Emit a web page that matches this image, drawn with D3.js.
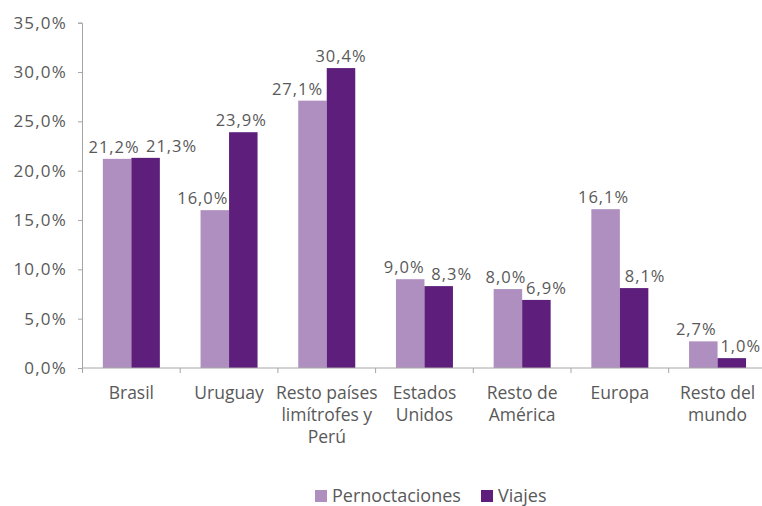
<!DOCTYPE html>
<html>
<head>
<meta charset="utf-8">
<script src="https://cdn.jsdelivr.net/npm/d3@7"></script>
<style>
  body { margin: 0; background: #fff; }
  text { font-family: "Open Sans", sans-serif; fill: #595959; }
</style>
</head>
<body>
<svg id="chart"></svg>
<script>
//**** DATA ****//
const categories = ["Brasil", "Uruguay", "Resto países\nlimítrofes y\nPerú", "Estados\nUnidos", "Resto de\nAmérica", "Europa", "Resto del\nmundo"];
const seriesNames = ["Pernoctaciones", "Viajes"];
const pernoctaciones = [21.2, 16.0, 27.1, 9.0, 8.0, 16.1, 2.7];
const viajes = [21.3, 23.9, 30.4, 8.3, 6.9, 8.1, 1.0];
const yTicks = [0, 5, 10, 15, 20, 25, 30, 35];

// label nudges (excel moved some labels sideways so they don't collide)
const labelDx = [[-3, 26], [-12, -2], [-15, 0], [-6, 13], [-2, 10], [-2, 11], [-7, 9]];

const width = 762, height = 506;
const colors = ["#AF8FC0", "#5E1F7C"];
const fmt = v => v.toFixed(1).replace(".", ",") + "%";

const svg = d3.select("#chart").attr("width", width).attr("height", height);

const x = d3.scaleBand().domain(categories).range([82.5, 766.4]).padding(0);
const x1 = d3.scaleBand().domain(seriesNames).range([0, x.bandwidth()]).paddingInner(0).paddingOuter(0.714);
const y = d3.scaleLinear().domain([0, 35]).range([368, 22.7]);

// y axis
const yAxis = svg.append("g").attr("transform", "translate(82,0)")
  .call(d3.axisLeft(y).tickValues(yTicks).tickSize(4).tickPadding(11).tickFormat(fmt));
yAxis.select(".domain").attr("stroke", "#A6A6A6");
yAxis.selectAll(".tick line").attr("stroke", "#A6A6A6");
yAxis.selectAll(".tick text").attr("font-size", 17).attr("letter-spacing", 1.2)
  .style("font-family", "'Open Sans', sans-serif").attr("fill", "#595959");

// bars
const groups = svg.selectAll("g.cat")
  .data(categories.map((c, i) => ({ cat: c, i: i, vals: [pernoctaciones[i], viajes[i]] })))
  .enter().append("g").attr("class", "cat")
  .attr("transform", d => "translate(" + x(d.cat) + ",0)");

groups.selectAll("rect")
  .data(d => d.vals.map((v, k) => ({ v: v, k: k })))
  .enter().append("rect")
  .attr("x", d => x1(seriesNames[d.k]))
  .attr("width", x1.bandwidth())
  .attr("y", d => y(d.v))
  .attr("height", d => y(0) - y(d.v))
  .attr("fill", d => colors[d.k]);

groups.selectAll("text.val")
  .data(d => d.vals.map((v, k) => ({ v: v, k: k, i: d.i })))
  .enter().append("text").attr("class", "val")
  .attr("x", d => x1(seriesNames[d.k]) + x1.bandwidth() / 2 + labelDx[d.i][d.k])
  .attr("y", d => y(d.v) - 6)
  .attr("text-anchor", "middle")
  .attr("font-size", 16.5).attr("letter-spacing", 1)
  .text(d => fmt(d.v));

// x axis
const xAxis = svg.append("g").attr("transform", "translate(0,368)");
xAxis.append("line").attr("x1", 82).attr("x2", width).attr("stroke", "#A6A6A6");
xAxis.selectAll("line.tk")
  .data(categories).enter().append("line").attr("class", "tk")
  .attr("x1", d => x(d)).attr("x2", d => x(d))
  .attr("y1", 0).attr("y2", 5).attr("stroke", "#A6A6A6");

xAxis.selectAll("text.cat")
  .data(categories).enter().append("text").attr("class", "cat")
  .attr("text-anchor", "middle")
  .attr("font-size", 17.5)
  .attr("transform", d => "translate(" + (x(d) + x.bandwidth() / 2) + ",31)")
  .each(function(d) {
    d.split("\n").forEach((line, j) => {
      d3.select(this).append("tspan").attr("x", 0).attr("y", j * 22).text(line);
    });
  });

// legend
const legendX = [315, 481];
const legend = svg.selectAll("g.leg")
  .data(seriesNames).enter().append("g").attr("class", "leg")
  .attr("transform", (d, i) => "translate(" + legendX[i] + ",490)");
legend.append("rect").attr("width", 12).attr("height", 12).attr("fill", (d, i) => colors[i]);
legend.append("text").attr("x", 17).attr("y", 11.5).attr("font-size", 18).text(d => d);
</script>
</body>
</html>
